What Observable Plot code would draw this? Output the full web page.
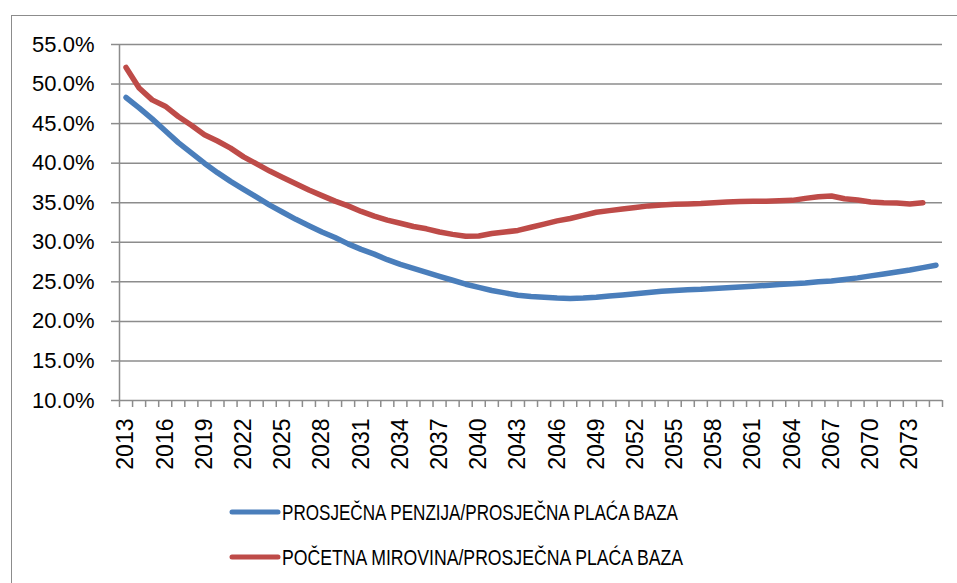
<!DOCTYPE html>
<html>
<head>
<meta charset="utf-8">
<script src="https://cdn.jsdelivr.net/npm/d3@7"></script>
<script src="https://cdn.jsdelivr.net/npm/@observablehq/plot@0.6"></script>
<style>
  html, body { margin: 0; padding: 0; background: #fff; overflow: hidden; }
  #wrap { position: relative; width: 957px; height: 583px; overflow: hidden; }
  #frame { position: absolute; left: 11px; top: 15px; width: 980px; height: 620px; border: 1.5px solid #8c8c8c; box-sizing: border-box; }
  #chart { position: absolute; left: 0; top: 0; }
  #legend { position: absolute; left: 0; top: 490px; }
</style>
</head>
<body>
<div id="wrap">
  <div id="frame"></div>
  <div id="chart"></div>
  <div id="legend"></div>
</div>
<script>
// Categories (years)
const years = d3.range(2013, 2076);
// Year labels shown on the axis
const labelYears = [2013, 2016, 2019, 2022, 2025, 2028, 2031, 2034, 2037, 2040, 2043, 2046, 2049, 2052, 2055, 2058, 2061, 2064, 2067, 2070, 2073];
// Y tick values (percent)
const yTicks = [10, 15, 20, 25, 30, 35, 40, 45, 50, 55];

// Series names
const seriesNames = ["PROSJEČNA PENZIJA/PROSJEČNA PLAĆA BAZA", "POČETNA MIROVINA/PROSJEČNA PLAĆA BAZA"];

// PROSJEČNA PENZIJA/PROSJEČNA PLAĆA BAZA (2013–2075), %
const penzija = [
  48.3, 47.0, 45.6, 44.1, 42.6, 41.3, 40.0, 38.8, 37.7, 36.7,
  35.7, 34.7, 33.8, 32.9, 32.1, 31.3, 30.6, 29.8, 29.1, 28.5,
  27.8, 27.2, 26.7, 26.2, 25.7, 25.2, 24.7, 24.3, 23.9, 23.6,
  23.3, 23.15, 23.05, 22.95, 22.9, 22.95, 23.05, 23.2, 23.35, 23.5,
  23.65, 23.8, 23.9, 24.0, 24.05, 24.15, 24.25, 24.35, 24.45, 24.55,
  24.65, 24.75, 24.85, 25.0, 25.1, 25.3, 25.5, 25.75, 26.0, 26.25,
  26.5, 26.8, 27.1
];
// POČETNA MIROVINA/PROSJEČNA PLAĆA BAZA (2013–2074), %
const mirovina = [
  52.1, 49.5, 48.0, 47.2, 45.9, 44.8, 43.6, 42.8, 41.9, 40.8,
  39.9, 39.0, 38.2, 37.4, 36.6, 35.9, 35.2, 34.6, 33.9, 33.3,
  32.8, 32.4, 32.0, 31.7, 31.3, 31.0, 30.75, 30.8, 31.1, 31.3,
  31.5, 31.9, 32.3, 32.7, 33.0, 33.4, 33.8, 34.0, 34.2, 34.4,
  34.6, 34.7, 34.8, 34.85, 34.9, 35.0, 35.1, 35.15, 35.2, 35.2,
  35.25, 35.3, 35.55, 35.75, 35.85, 35.5, 35.35, 35.1, 35.0, 34.95,
  34.85, 35.0
];

const colors = ["#4A7EBB", "#BE4B48"];
const gridColor = "#8c8c8c";

const blueData = penzija.map((v, i) => ({year: years[i], value: v}));
const redData = mirovina.map((v, i) => ({year: years[i], value: v}));
const boundaries = d3.range(years[0] - 0.5, years[years.length - 1] + 1, 1);

const chart = Plot.plot({
  width: 957,
  height: 480,
  marginLeft: 119,
  marginRight: 15,
  marginTop: 44,
  marginBottom: 80,
  style: {fontFamily: "'Liberation Sans', Arial, sans-serif", color: "#000", background: "transparent"},
  x: {type: "linear", domain: [years[0] - 0.5, years[years.length - 1] + 0.5]},
  y: {domain: [10, 55]},
  marks: [
    Plot.gridY(yTicks, {stroke: gridColor, strokeOpacity: 1, strokeWidth: 1.5}),
    Plot.ruleX([years[0] - 0.5], {y1: 10, y2: 55, stroke: gridColor, strokeWidth: 1.5}),
    Plot.axisY(yTicks, {
      tickFormat: d => d.toFixed(1) + "%",
      tickSize: 8, tickPadding: 17, stroke: gridColor, strokeWidth: 1.5,
      fontSize: 22, fill: "#000", label: null
    }),
    Plot.axisX(boundaries, {
      tickFormat: () => "", tickSize: 7, stroke: gridColor, strokeWidth: 1.5, label: null
    }),
    Plot.axisX(labelYears, {
      tickFormat: d => String(d), tickSize: 0, tickPadding: 18, tickRotate: -90,
      fontSize: 23, fill: "#000", label: null
    }),
    Plot.line(blueData, {x: "year", y: "value", stroke: colors[0], strokeWidth: 5.5, strokeLinecap: "round", strokeLinejoin: "round"}),
    Plot.line(redData, {x: "year", y: "value", stroke: colors[1], strokeWidth: 5.5, strokeLinecap: "round", strokeLinejoin: "round"})
  ]
});
document.getElementById("chart").appendChild(chart);

// Legend (below the plot)
const legendW = 957, legendH = 93;
const lsvg = d3.create("svg").attr("width", legendW).attr("height", legendH)
  .attr("font-family", "'Liberation Sans', Arial, sans-serif");
const rows = [
  {name: seriesNames[0], color: colors[0], cy: 22, len: 396},
  {name: seriesNames[1], color: colors[1], cy: 67, len: 401}
];
for (const r of rows) {
  lsvg.append("line").attr("x1", 232).attr("x2", 278).attr("y1", r.cy).attr("y2", r.cy)
    .attr("stroke", r.color).attr("stroke-width", 5).attr("stroke-linecap", "round");
  lsvg.append("text").attr("x", 282).attr("y", r.cy).attr("dy", "0.36em")
    .attr("font-size", 22.5).attr("fill", "#000")
    .attr("textLength", r.len).attr("lengthAdjust", "spacingAndGlyphs")
    .text(r.name);
}
document.getElementById("legend").appendChild(lsvg.node());
</script>
</body>
</html>
